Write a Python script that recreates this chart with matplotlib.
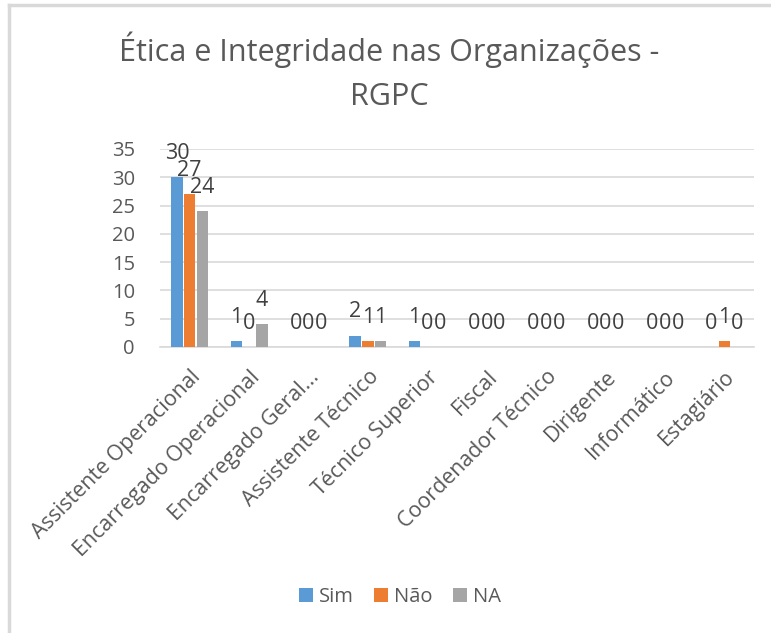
import matplotlib.pyplot as plt
import numpy as np
from matplotlib.lines import Line2D

plt.rcParams['font.family'] = ['Open Sans', 'DejaVu Sans']

categories = ['Assistente Operacional', 'Encarregado Operacional', 'Encarregado Geral...',
              'Assistente Técnico', 'Técnico Superior', 'Fiscal', 'Coordenador Técnico',
              'Dirigente', 'Informático', 'Estagiário']
sim = [30, 1, 0, 2, 1, 0, 0, 0, 0, 0]
nao = [27, 0, 0, 1, 0, 0, 0, 0, 0, 1]
na = [24, 4, 0, 1, 0, 0, 0, 0, 0, 0]
series = [('Sim', sim, '#5B9BD5'), ('Não', nao, '#ED7D31'), ('NA', na, '#A5A5A5')]

txt = '#595959'
W, H = 771, 633
fig = plt.figure(figsize=(W / 100, H / 100), dpi=100)

# chart border (top and left visible, rest cropped)
fig.add_artist(Line2D([8.5 / W, 8.5 / W], [0, 1 - 5 / H], color='#d9d9d9', lw=2.5))
fig.add_artist(Line2D([8.5 / W, 1], [1 - 5 / H, 1 - 5 / H], color='#d9d9d9', lw=2.5))

ax = fig.add_axes([160 / W, 1 - 347 / H, 594 / W, 198 / H])
x = np.arange(len(categories))
bw = 0.19
step = 0.215
for i, (name, vals, col) in enumerate(series):
    pos = x + (i - 1) * step
    bars = ax.bar(pos, vals, bw, color=col, label=name, zorder=3)
    for p, v in zip(pos, vals):
        ax.annotate(str(v), (p, v), xytext=(0, 9.5), textcoords='offset points',
                    ha='center', va='bottom', fontsize=15.5, color='#404040', zorder=4)

ax.set_xlim(-0.5, len(categories) - 0.5)
ax.set_ylim(0, 35)
ax.set_yticks(range(0, 36, 5))
ax.yaxis.grid(True, color='#d9d9d9', lw=1.2, zorder=0)
for s in ['top', 'right', 'left']:
    ax.spines[s].set_visible(False)
ax.spines['bottom'].set_color('#d9d9d9')
ax.spines['bottom'].set_linewidth(1.2)
ax.tick_params(axis='both', length=0, labelsize=14.5, labelcolor=txt)
ax.tick_params(axis='y', pad=18)
ax.tick_params(axis='x', pad=14, labelsize=15.4)
ax.set_xticks(x)
ax.set_xticklabels(categories, rotation=45, ha='right', rotation_mode='anchor')

fig.text(389 / W, 1 - 50 / H, 'Ética e Integridade nas Organizações -', ha='center',
         va='center', fontsize=22, color=txt)
fig.text(389 / W, 1 - 97 / H, 'RGPC', ha='center', va='center', fontsize=22, color=txt)

fig.legend(loc='center', bbox_to_anchor=(400 / W, 1 - 597 / H), ncol=3, frameon=False,
           fontsize=14.5, labelcolor=txt, handlelength=0.7, handleheight=0.7,
           handletextpad=0.3, columnspacing=1.0)

fig.savefig('out.png', dpi=100)
